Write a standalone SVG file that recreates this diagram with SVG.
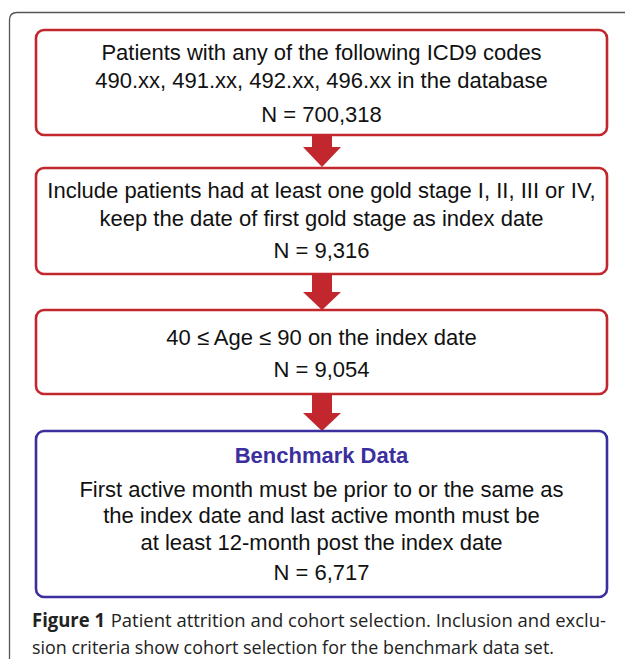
<svg xmlns="http://www.w3.org/2000/svg" width="625" height="659" viewBox="0 0 625 659">
<style>
.frame{fill:none;stroke:#555;stroke-width:1.3}
.red{fill:#fff;stroke:#c1272d;stroke-width:2.6}
.blue{fill:#fff;stroke:#3b2f9e;stroke-width:2.6}
.t{font-family:"Liberation Sans",Arial,sans-serif;font-size:22px;fill:#111;text-anchor:middle}
.h{font-family:"Liberation Sans",Arial,sans-serif;font-size:22px;font-weight:bold;fill:#3b2f9e;text-anchor:middle}
.arrow{fill:#c1272d}
.cap{font-family:"Open Sans","Noto Sans",sans-serif;font-size:19px;fill:#222}
</style>
<rect width="625" height="659" fill="#fff"/>
<path class="frame" d="M9.5,659 V20 Q9.5,12.5 17,12.5 H625"/>
<g id="connectors">
<polygon class="arrow" points="312,135 332,135 332,147 341,147 322,167 303,147 312,147"/>
<polygon class="arrow" points="312,274 332,274 332,292 341,292 322,310 303,292 312,292"/>
<polygon class="arrow" points="312,394 332,394 332,413 341,413 322,431 303,413 312,413"/>
</g>
<g id="node1">
<rect class="red" x="36" y="30" width="571" height="105" rx="8"/>
<text class="t" x="321.5" y="60">Patients with any of the following ICD9 codes</text>
<text class="t" x="321.5" y="88">490.xx, 491.xx, 492.xx, 496.xx in the database</text>
<text class="t" x="321.5" y="122">N = 700,318</text>
</g>
<g id="node2">
<rect class="red" x="36" y="168" width="571" height="106" rx="8"/>
<text class="t" x="321.5" y="198">Include patients had at least one gold stage I, II, III or IV,</text>
<text class="t" x="321.5" y="226">keep the date of first gold stage as index date</text>
<text class="t" x="321.5" y="258">N = 9,316</text>
</g>
<g id="node3">
<rect class="red" x="36" y="310" width="571" height="84" rx="8"/>
<text class="t" x="321.5" y="345">40 ≤ Age ≤ 90 on the index date</text>
<text class="t" x="321.5" y="377">N = 9,054</text>
</g>
<g id="node4">
<rect class="blue" x="36" y="431" width="571" height="166" rx="8"/>
<text class="h" x="321.5" y="463">Benchmark Data</text>
<text class="t" x="321.5" y="497">First active month must be prior to or the same as</text>
<text class="t" x="321.5" y="523">the index date and last active month must be</text>
<text class="t" x="321.5" y="550">at least 12-month post the index date</text>
<text class="t" x="321.5" y="580">N = 6,717</text>
</g>
<g id="caption">
<text class="cap" x="32" y="627" textLength="574" lengthAdjust="spacingAndGlyphs"><tspan font-weight="bold">Figure 1</tspan><tspan dx="6">Patient attrition and cohort selection. Inclusion and exclu-</tspan></text>
<text class="cap" x="32" y="654" textLength="522" lengthAdjust="spacingAndGlyphs">sion criteria show cohort selection for the benchmark data set.</text>
</g>
</svg>
